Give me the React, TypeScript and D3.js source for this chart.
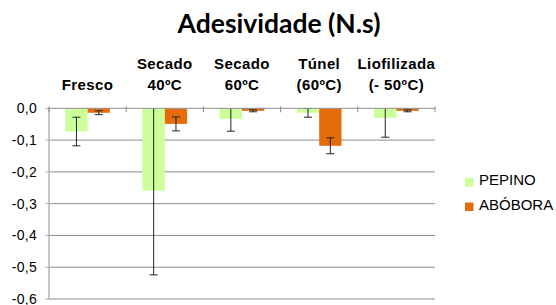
import * as d3 from "d3";

const categories = ["Fresco", "Secado 40ºC", "Secado 60ºC", "Túnel (60ºC)", "Liofilizada (- 50ºC)"];
const categoryLines = [["", "Fresco"], ["Secado", "40ºC"], ["Secado", "60ºC"], ["Túnel", "(60ºC)"], ["Liofilizada", "(- 50ºC)"]];
const seriesNames = ["PEPINO", "ABÓBORA"];
const pepino = [-0.073, -0.259, -0.033, -0.014, -0.03];
const pepinoErr = [0.045, 0.265, 0.039, 0.014, 0.061];
const abobora = [-0.014, -0.049, -0.008, -0.118, -0.008];
const aboboraErr = [0.006, 0.022, 0.003, 0.025, 0.003];
const yTicks = [0, -0.1, -0.2, -0.3, -0.4, -0.5, -0.6];

const colors = ["#ccff99", "#e46c0a"];

export default function App() {
  const width = 556;
  const height = 305;
  const plot = { left: 49, right: 435, top: 108.3, bottom: 299 };

  const x0 = d3.scaleBand<string>().domain(categories).range([plot.left, plot.right]);
  const groupWidth = x0.bandwidth() * 0.578;
  const x1 = d3.scaleBand<string>().domain(seriesNames).range([0, groupWidth]);
  const y = d3.scaleLinear().domain([-0.6, 0]).range([plot.bottom, plot.top]);

  const series = [
    { name: seriesNames[0], values: pepino, errs: pepinoErr, color: colors[0] },
    { name: seriesNames[1], values: abobora, errs: aboboraErr, color: colors[1] },
  ];
  const fmt = (v: number) => (v === 0 ? "0,0" : d3.format(".1f")(v).replace(".", ",").replace("−", "-"));

  return (
    <svg width={width} height={height} style={{ position: "absolute", left: 0, top: 0, background: "#fff" }}>
      <defs>
        <clipPath id="plotClip">
          <rect x={plot.left} y={plot.top} width={plot.right - plot.left} height={plot.bottom - plot.top} />
        </clipPath>
      </defs>
      <text x={279} y={33} textAnchor="middle" fontFamily="Lato, 'Open Sans', sans-serif" fontWeight="bold" fontSize="26.5" fill="#000">
        Adesividade (N.s)
      </text>

      {/* gridlines */}
      {yTicks.slice(1).map((t) => (
        <line key={t} x1={plot.left} x2={plot.right} y1={y(t)} y2={y(t)} stroke="#8c8c8c" strokeWidth="1" />
      ))}
      {/* y axis */}
      <line x1={plot.left} x2={plot.left} y1={plot.top} y2={plot.bottom} stroke="#b4b4b4" strokeWidth="1.5" />
      {yTicks.map((t) => (
        <g key={"yt" + t}>
          <line x1={plot.left - 4} x2={plot.left} y1={y(t)} y2={y(t)} stroke="#b4b4b4" strokeWidth="1" />
          <text x={37} y={y(t)} dy="0.36em" textAnchor="end" fontFamily="'Liberation Sans', Arial, sans-serif" fontSize="14" letterSpacing="0.3" fill="#000">
            {fmt(t)}
          </text>
        </g>
      ))}

      {/* bars */}
      <g clipPath="url(#plotClip)">
        {series.map((s) =>
          categories.map((c, i) => {
            const bx = x0(c)! + (x0.bandwidth() - groupWidth) / 2 + x1(s.name)!;
            const bw = x1.bandwidth();
            const v = s.values[i];
            return (
              <rect key={s.name + c} x={bx} y={y(0)} width={bw} height={y(v) - y(0)} fill={s.color} />
            );
          })
        )}
        {series.map((s) =>
          categories.map((c, i) => {
            const cx = x0(c)! + (x0.bandwidth() - groupWidth) / 2 + x1(s.name)! + x1.bandwidth() / 2;
            const v = s.values[i];
            const e = s.errs[i];
            const yTop = y(v + e);
            const yBot = y(v - e);
            return (
              <g key={"err" + s.name + c} stroke="#222" strokeWidth="1">
                <line x1={cx} x2={cx} y1={yTop} y2={yBot} />
                <line x1={cx - 4} x2={cx + 4} y1={yTop} y2={yTop} />
                <line x1={cx - 4} x2={cx + 4} y1={yBot} y2={yBot} />
              </g>
            );
          })
        )}
      </g>

      {/* x axis at zero */}
      <line x1={plot.left} x2={plot.right} y1={y(0)} y2={y(0)} stroke="#8c8c8c" strokeWidth="1" />
      {categories.concat([""]).map((c, i) => {
        const tx = i < categories.length ? x0(c)! : plot.right;
        return <line key={"xt" + i} x1={tx} x2={tx} y1={y(0) - 2} y2={y(0) + 4} stroke="#8c8c8c" strokeWidth="1" />;
      })}

      {/* category labels */}
      {categories.map((c, i) => (
        <text key={"cl" + c} x={x0(c)! + x0.bandwidth() / 2} textAnchor="middle" fontFamily="'Liberation Sans', Arial, sans-serif" fontWeight="bold" fontSize="15" letterSpacing="0.4" fill="#000">
          <tspan x={x0(c)! + x0.bandwidth() / 2} y={69}>{categoryLines[i][0]}</tspan>
          <tspan x={x0(c)! + x0.bandwidth() / 2} y={90}>{categoryLines[i][1]}</tspan>
        </text>
      ))}

      {/* legend */}
      {series.map((s, i) => (
        <g key={"lg" + s.name} transform={`translate(465, ${178 + i * 24.5})`}>
          <rect x={0} y={0} width={8.5} height={8.5} fill={s.color} />
          <text x={14} y={7} fontFamily="'Liberation Sans', Arial, sans-serif" fontSize="15" fill="#000">
            {s.name}
          </text>
        </g>
      ))}
    </svg>
  );
}
